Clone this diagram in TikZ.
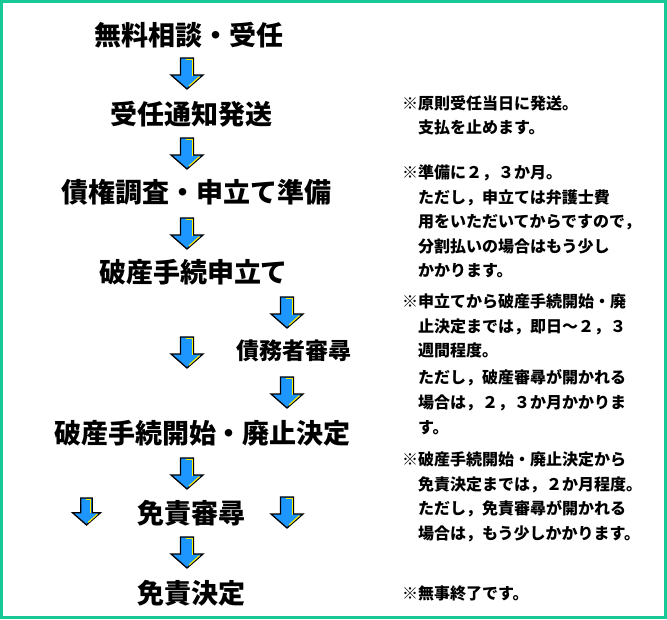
\documentclass[tikz,border=0pt]{standalone}
\usepackage{fontspec}
\newfontfamily\cjk{Noto Sans CJK JP}
\definecolor{framegreen}{RGB}{24,200,150}
\definecolor{arrowblue}{RGB}{30,150,255}
\definecolor{hiyellow}{RGB}{255,240,0}
\tikzset{
  stage/.style={inner sep=0pt, font=\cjk\bfseries\fontsize{27}{27}\selectfont, text height=23.8pt, text depth=3.2pt, anchor=center},
  substage/.style={inner sep=0pt, font=\cjk\bfseries\fontsize{23}{23}\selectfont, text height=20.2pt, text depth=2.8pt, anchor=center},
  note/.style={inner sep=0pt, font=\cjk\bfseries\fontsize{16}{16}\selectfont, text height=14.1pt, text depth=1.9pt, anchor=west},
  downarrow/.pic={
    \filldraw[fill=arrowblue, draw=black, line width=1.3pt, line join=miter]
      (-6.5,0) -- (6.5,0) -- (6.5,17) -- (16,17) -- (0,31) -- (-16,17) -- (-6.5,17) -- cycle;
    \draw[hiyellow, line width=1.1pt] (-1,1.4) -- (5.1,1.4) -- (5.1,17.8);
    \draw[hiyellow, line width=1.1pt] (12.5,18.6) -- (2,28);
  }
}
\begin{document}
\begin{tikzpicture}[x=1pt,y=-1pt]
\useasboundingbox (0,0) rectangle (667,619);
\fill[white] (0,0) rectangle (667,619);
\draw[framegreen, line width=2.6pt] (1.3,1.3) rectangle (665.2,617.7);

% main flow
\node[stage] (t1) at (188.5,35) {無料相談・受任};
\node[stage] (t2) at (191,114) {受任通知発送};
\node[stage] (t3) at (196.5,192) {債権調査・申立て準備};
\node[stage] (t4) at (193.5,272) {破産手続申立て};
\node[substage] (t5) at (294,351) {債務者審尋};
\node[stage] (t6) at (202.5,433) {破産手続開始・廃止決定};
\node[stage] (t7) at (191.5,513) {免責審尋};
\node[stage] (t8) at (191.5,593) {免責決定};

% arrows
\pic (a1) at (187,58) {downarrow};
\pic (a2) at (187,138) {downarrow};
\pic (a3) at (187,218) {downarrow};
\pic (r1) at (287,297) {downarrow};
\pic (l1) at (187,337) {downarrow};
\pic (r2) at (287,377) {downarrow};
\pic (a4) at (187,458) {downarrow};
\pic[scale=0.87] (l2) at (86.5,498) {downarrow};
\pic (r3) at (287,497) {downarrow};
\pic (a5) at (187,537) {downarrow};

% notes
\node[note] (n1) at (402,103) {※原則受任当日に発送。};
\node[note] (n1b) at (402,127) {　支払を止めます。};
\node[note] (n2) at (402,172) {※準備に２，３か月。};
\node[note] (n2b) at (402,197) {　ただし，申立ては弁護士費};
\node[note] (n2c) at (402,221) {　用をいただいてからですので，};
\node[note] (n2d) at (402,246) {　分割払いの場合はもう少し};
\node[note] (n2e) at (402,270) {　かかります。};
\node[note] (n3) at (402,301) {※申立てから破産手続開始・廃};
\node[note] (n3b) at (402,326) {　止決定までは，即日～２，３};
\node[note] (n3c) at (402,350) {　週間程度。};
\node[note] (n3d) at (402,377) {　ただし，破産審尋が開かれる};
\node[note] (n3e) at (402,402) {　場合は，２，３か月かかりま};
\node[note] (n3f) at (402,427) {　す。};
\node[note] (n4) at (402,459) {※破産手続開始・廃止決定から};
\node[note] (n4b) at (402,484) {　免責決定までは，２か月程度。};
\node[note] (n4c) at (402,508) {　ただし，免責審尋が開かれる};
\node[note] (n4d) at (402,533) {　場合は，もう少しかかります。};
\node[note] (n5) at (402,593) {※無事終了です。};
\end{tikzpicture}
\end{document}
